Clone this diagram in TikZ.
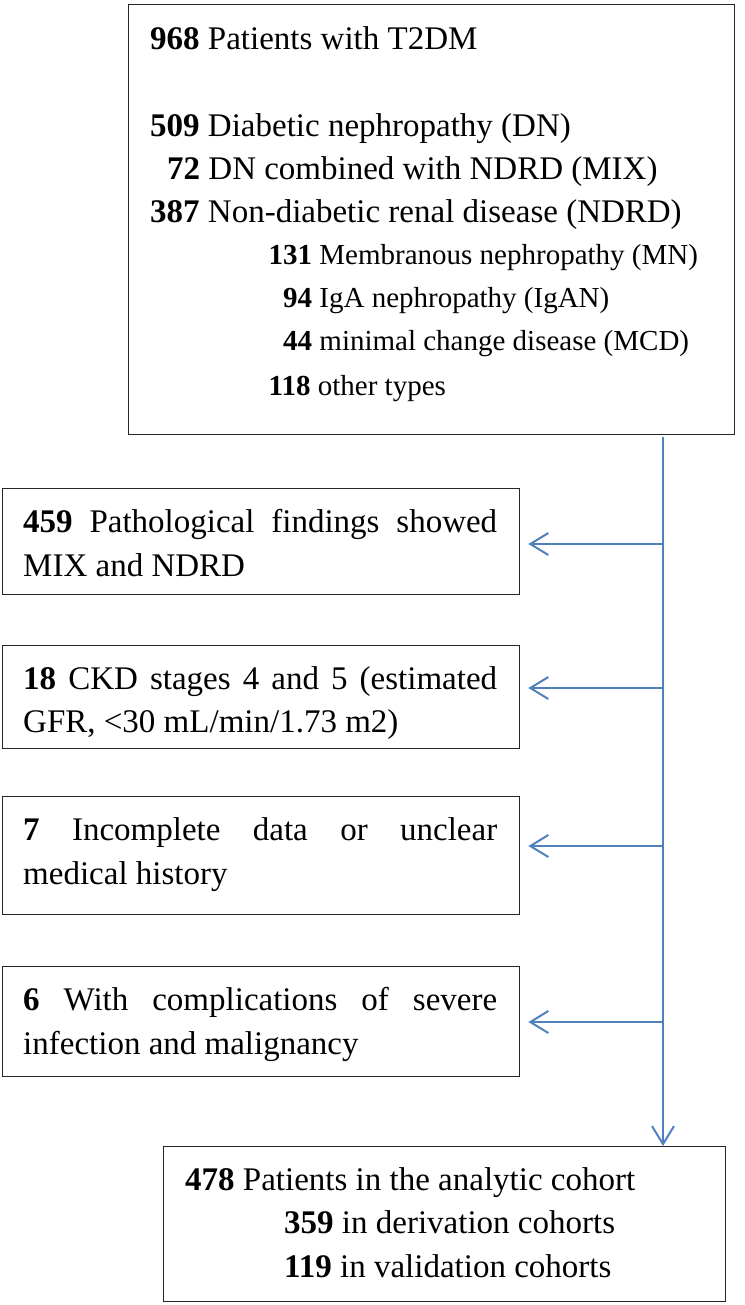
\documentclass[tikz,border=0pt]{standalone}
\usepackage{fontspec}
\setmainfont{Liberation Serif}
\usetikzlibrary{arrows.meta}
\definecolor{flowblue}{HTML}{4F81BD}
\begin{document}
\begin{tikzpicture}[x=1pt,y=-1pt,
  box/.style={draw=black!85, line width=1.4pt, inner sep=0pt, anchor=north west},
  txt/.style={anchor=base west, inner sep=0pt, font=\fontsize{33}{43.5}\selectfont},
  subtxt/.style={anchor=base west, inner sep=0pt, font=\fontsize{29}{38}\selectfont},
  flow/.style={draw=flowblue, line width=2pt},
  arr/.style={flow, -{Straight Barb[length=18pt,width=22pt]}}]
\useasboundingbox (0,0) rectangle (744,1305);

% boxes
\node[box, minimum width=606pt, minimum height=430pt] (top) at (128,4) {};
\node[box, minimum width=517pt, minimum height=106pt] (b1) at (2,488) {};
\node[box, minimum width=517pt, minimum height=103pt] (b2) at (2,645) {};
\node[box, minimum width=517pt, minimum height=118pt] (b3) at (2,796) {};
\node[box, minimum width=517pt, minimum height=110pt] (b4) at (2,966) {};
\node[box, minimum width=562pt, minimum height=155pt] (bot) at (163,1146) {};

% top box text
\node[txt] (l1) at (150,50) {\textbf{968} Patients with T2DM};
\node[txt] (l2) at (150,137) {\textbf{509} Diabetic nephropathy (DN)};
\node[txt] (l3) at (167,180) {\textbf{72} DN combined with NDRD (MIX)};
\node[txt] (l4) at (150,223) {\textbf{387} Non-diabetic renal disease (NDRD)};
\node[subtxt] (l5) at (268.5,265) {\textbf{131} Membranous nephropathy (MN)};
\node[subtxt] (l6) at (283,308) {\textbf{94} IgA nephropathy (IgAN)};
\node[subtxt] (l7) at (283,350) {\textbf{44} minimal change disease (MCD)};
\node[subtxt] (l8) at (268.5,395) {\textbf{118} other types};

% exclusion boxes text
\node[txt] (e1a) at (23,532) {\makebox[474pt][s]{\textbf{459} Pathological findings showed}};
\node[txt] (e1b) at (23,576) {MIX and NDRD};
\node[txt] (e2a) at (23,689) {\makebox[474pt][s]{\textbf{18} CKD stages 4 and 5 (estimated}};
\node[txt] (e2b) at (23,732) {GFR, <30 mL/min/1.73 m2)};
\node[txt] (e3a) at (23,840) {\makebox[474pt][s]{\textbf{7} Incomplete data or unclear}};
\node[txt] (e3b) at (23,884) {medical history};
\node[txt] (e4a) at (23,1010) {\makebox[474pt][s]{\textbf{6} With complications of severe}};
\node[txt] (e4b) at (23,1054) {infection and malignancy};

% bottom box text
\node[txt] (c1) at (185,1190) {\textbf{478} Patients in the analytic cohort};
\node[txt] (c2) at (284,1233) {\textbf{359} in derivation cohorts};
\node[txt] (c3) at (284,1277) {\textbf{119} in validation cohorts};

% connectors
\coordinate (vtop) at (663,437);
\coordinate (j1) at (663,544);
\coordinate (j2) at (663,688);
\coordinate (j3) at (663,846);
\coordinate (j4) at (663,1022);
\draw[arr] (vtop) -- (vtop |- bot.north);
\draw[arr, shorten >=8pt] (j1) -- (b1.east |- j1);
\draw[arr, shorten >=8pt] (j2) -- (b2.east |- j2);
\draw[arr, shorten >=8pt] (j3) -- (b3.east |- j3);
\draw[arr, shorten >=8pt] (j4) -- (b4.east |- j4);
\end{tikzpicture}
\end{document}
